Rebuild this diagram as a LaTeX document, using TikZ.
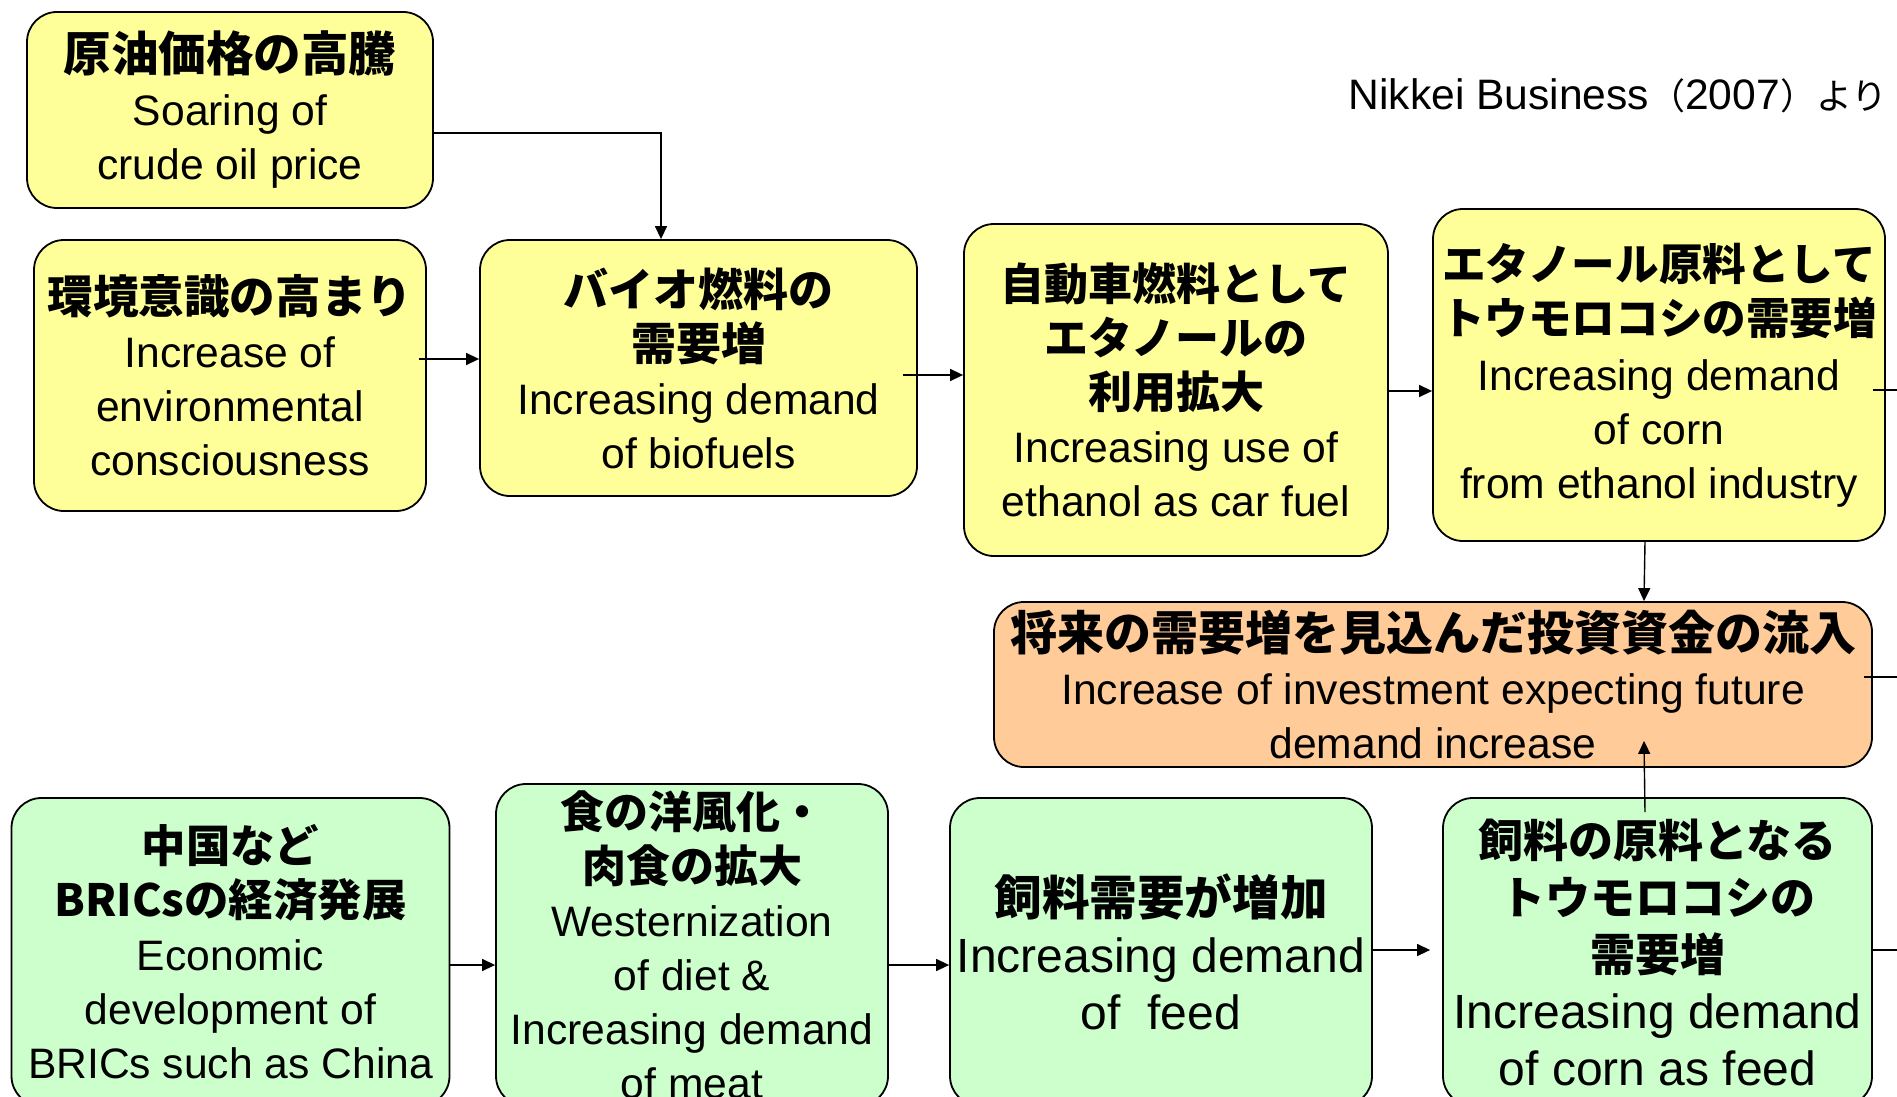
\documentclass[tikz,border=0pt]{standalone}
\usepackage{fontspec}
\setmainfont{Liberation Sans}
\newfontfamily\jpfont{Noto Sans CJK JP}
\usetikzlibrary{calc,arrows.meta}
\definecolor{boxyellow}{HTML}{FFFF99}
\definecolor{boxgreen}{HTML}{CCFFCC}
\definecolor{boxorange}{HTML}{FFCC99}
\newcommand{\jp}[2][22.5]{{\jpfont\bfseries\fontsize{#1}{27}\selectfont #2}}
\tikzset{
  box/.style={draw=black,line width=0.9pt,rounded corners=15pt,align=center,inner sep=0pt,
    font=\fontsize{21.3}{27}\selectfont},
  yelbox/.style={box,fill=boxyellow},
  grnbox/.style={box,fill=boxgreen},
  orgbox/.style={box,fill=boxorange},
  bigtext/.style={font=\fontsize{24}{28.5}\selectfont},
}
\begin{document}
\begin{tikzpicture}[x=0.5pt,y=-0.5pt,>={Triangle[length=6.5pt,width=6pt]},line width=0.7pt]
\useasboundingbox (0,0) rectangle (1897,1097);
\clip (0,0) rectangle (1897,1097);
% upper row
\node[yelbox,minimum width=203pt,minimum height=98pt] (oil) at (230,110)
  {\jp[23.8]{原油価格の高騰}\\Soaring of\\crude oil price};
\node[yelbox,minimum width=196pt,minimum height=135.5pt] (env) at (230,375.5)
  {\jp[22.8]{環境意識の高まり}\\Increase of\\environmental\\consciousness};
\node[yelbox,minimum width=218.5pt,minimum height=128pt] (bio) at (698.5,368)
  {\jp{バイオ燃料の}\\\jp{需要増}\\Increasing demand\\of biofuels};
\node[yelbox,minimum width=212pt,minimum height=166pt] (ethanol) at (1176,390)
  {\jp[22]{自動車燃料として}\\\jp[22]{エタノールの}\\\jp[22]{利用拡大}\\Increasing use of\\ethanol as car fuel};
\node[yelbox,minimum width=226pt,minimum height=166pt] (corn) at (1659,375)
  {\jp[21.8]{エタノール原料として}\\\jp[21.8]{トウモロコシの需要増}\\[1pt]Increasing demand\\of corn\\from ethanol industry};
\node[orgbox,minimum width=439pt,minimum height=82.5pt] (invest) at (1433,684.5)
  {\jp[23.5]{将来の需要増を見込んだ投資資金の流入}\\Increase of investment expecting future\\demand increase};
% lower row
\node[grnbox,minimum width=219pt,minimum height=154pt] (bric) at (230.5,952)
  {\jp[22.2]{中国など}\\\jp[22.2]{BRICsの経済発展}\\Economic\\development of\\BRICs such as China};
\node[grnbox,minimum width=196pt,minimum height=161pt] (diet) at (692,945)
  {\jp[22]{食の洋風化・}\\\jp[22]{肉食の拡大}\\Westernization\\of diet \&\\Increasing demand\\of meat};
\node[grnbox,bigtext,minimum width=211pt,minimum height=154pt] (feed) at (1161,952)
  {\jp[23.8]{飼料需要が増加}\\Increasing demand\\of~ feed};
\node[grnbox,bigtext,minimum width=214.5pt,minimum height=154pt] (cornfeed) at (1657.5,952)
  {\jp{飼料の原料となる}\\\jp{トウモロコシの}\\\jp{需要増}\\Increasing demand\\of corn as feed};
\node[anchor=base east,inner sep=0pt,font=\fontsize{21.3}{26}\selectfont] (src) at (1888,110)
  {Nikkei Business{\jpfont\fontsize{18}{26}\selectfont （}2007{\jpfont\fontsize{18}{26}\selectfont ）より}};
% free ends past the right edge
\coordinate (cornout) at (1910,390);
\coordinate (investout) at (1910,677);
\coordinate (feedout) at (1910,950);
% connectors
\draw[->] ($(oil.east)+(0,23)$) -| ($(bio.north)+(-37.5,0)$);
\draw[->] ($(env.east)+(-8,-16.5)$) -- ($(bio.west)+(0,-9)$);
\draw[->] ($(bio.east)+(-15,7)$) -- ($(ethanol.west)+(0,-15)$);
\draw[->] ($(ethanol.east)+(0,1)$) -- ($(corn.west)+(0,16)$);
\draw ($(corn.east)+(-13,15)$) -- (cornout);
\draw[->] ($(corn.south)+(-14,0)$) -- ($(invest.north)+(211,0)$);
\draw ($(invest.east)+(-9,-7.5)$) -- (investout);
\draw[->] ($(cornfeed.north)+(-12.5,15)$) -- ($(invest.south)+(211,-27)$);
\draw[->] ($(bric.east)+(0,13)$) -- ($(diet.west)+(0,20)$);
\draw[->] ($(diet.east)+(0,20)$) -- ($(feed.west)+(0,13)$);
\draw[->] ($(feed.east)+(0,-2)$) -- ($(cornfeed.west)+(-12,-2)$);
\draw ($(cornfeed.east)+(0,-2)$) -- (feedout);
\end{tikzpicture}
\end{document}
